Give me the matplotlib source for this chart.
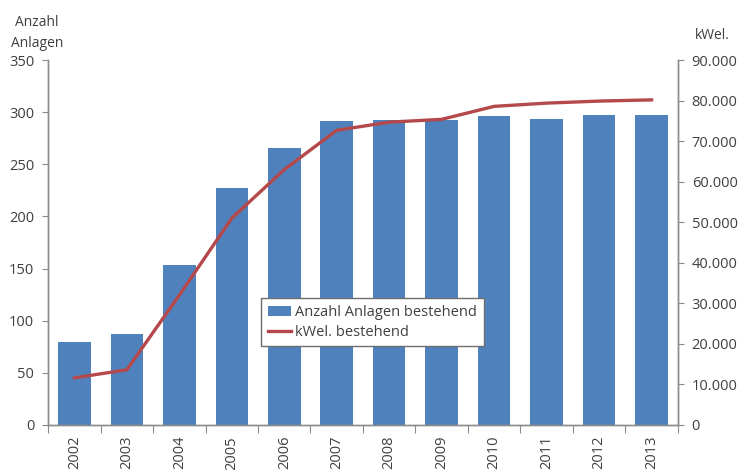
import matplotlib
matplotlib.use("Agg")
import matplotlib.pyplot as plt

plt.rcParams['font.family'] = ['Open Sans', 'DejaVu Sans']

years = ["2002", "2003", "2004", "2005", "2006", "2007",
         "2008", "2009", "2010", "2011", "2012", "2013"]
anlagen = [80, 87, 153, 227, 266, 292, 293, 293, 296, 294, 297, 297]
kwel = [11600, 13600, 32000, 51000, 63000, 72700,
        74700, 75400, 78600, 79400, 79900, 80200]

left_ticks = [0, 50, 100, 150, 200, 250, 300, 350]
right_ticks = [0, 10000, 20000, 30000, 40000, 50000, 60000, 70000, 80000, 90000]

bar_color = "#4F81BD"
line_color = "#B5484B"
axis_color = "#8C8C8C"
text_color = "#404040"

fig = plt.figure(figsize=(7.4, 4.7), dpi=100)
ax = fig.add_axes([0.065, 0.096, 0.851, 0.776])
ax2 = ax.twinx()

x = range(len(years))
bars = ax.bar(x, anlagen, width=0.62, color=bar_color, zorder=2,
              label="Anzahl Anlagen bestehend")
line, = ax2.plot(x, kwel, color=line_color, linewidth=2.4, zorder=3,
                 label="kWel. bestehend")

ax.set_xlim(-0.5, len(years) - 0.5)
ax.set_ylim(0, 350)
ax2.set_ylim(0, 90000)

ax.set_yticks(left_ticks)
ax.set_yticklabels([str(v) for v in left_ticks])
ax2.set_yticks(right_ticks)
ax2.set_yticklabels([f"{v:,}".replace(",", ".") for v in right_ticks])

# category ticks sit between the bars, labels at bar centers
ax.set_xticks([i + 0.5 for i in range(-1, len(years))], minor=False)
ax.set_xticklabels([""] * (len(years) + 1))
ax.set_xticks(list(x), minor=True)
ax.set_xticklabels(years, minor=True, rotation=90)
ax.tick_params(axis="x", which="major", length=6, color=axis_color)
ax.tick_params(axis="x", which="minor", length=0, pad=8,
               labelsize=10.5, labelcolor=text_color)

for a in (ax, ax2):
    a.spines["top"].set_visible(False)
    for s in ("left", "right", "bottom"):
        a.spines[s].set_color(axis_color)
        a.spines[s].set_linewidth(1.0)

ax.tick_params(axis="y", length=4, color=axis_color, labelsize=10.5,
               labelcolor=text_color, pad=6)
ax2.tick_params(axis="y", length=4, color=axis_color, labelsize=10.5,
                labelcolor=text_color, pad=6)

fig.text(0.05, 0.93, "Anzahl\nAnlagen", ha="center", va="center",
         fontsize=10, color=text_color, linespacing=1.5)
fig.text(0.962, 0.925, "kWel.", ha="center", va="center",
         fontsize=10, color=text_color)

leg = ax2.legend(handles=[bars, line], loc="lower left",
                 bbox_to_anchor=(0.338, 0.215), frameon=True, fancybox=False,
                 framealpha=1.0, fontsize=10.5, handlelength=1.6,
                 handletextpad=0.3, borderpad=0.45, labelspacing=0.35,
                 borderaxespad=0)
leg.get_frame().set_edgecolor("#6E6E6E")
leg.get_frame().set_linewidth(1.0)
for t in leg.get_texts():
    t.set_color(text_color)
leg.set_zorder(5)

fig.savefig("out.png", dpi=100)
